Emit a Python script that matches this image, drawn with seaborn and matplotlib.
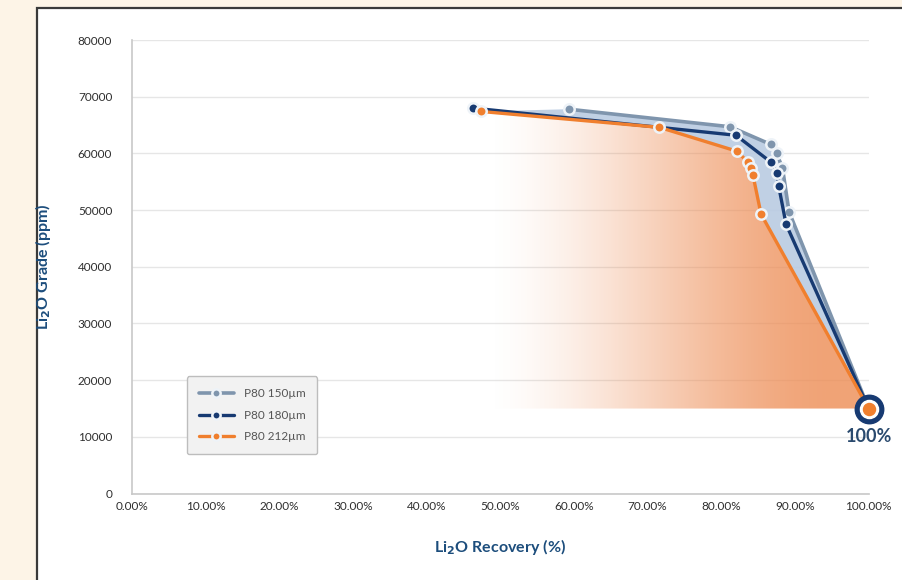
import numpy as np
import pandas as pd
import matplotlib.pyplot as plt
import seaborn as sns
from matplotlib.patches import Rectangle
from matplotlib.ticker import FuncFormatter

# Li2O grade vs recovery for three grind sizes
recovery_150 = [59.3, 81.2, 86.7, 87.5, 88.3, 89.2, 100]
grade_150 = [67800, 64700, 61600, 60000, 57500, 49700, 15000]

recovery_180 = [46.3, 82.0, 86.8, 87.6, 87.8, 88.8, 100]
grade_180 = [68000, 63200, 58400, 56600, 54200, 47500, 15000]

recovery_212 = [47.4, 71.6, 82.1, 83.6, 84.0, 84.3, 85.4, 100]
grade_212 = [67400, 64600, 60400, 58500, 57500, 56200, 49300, 15000]

series_labels = ['P80 150µm', 'P80 180µm', 'P80 212µm']
x_ticks = [0, 10, 20, 30, 40, 50, 60, 70, 80, 90, 100]
y_ticks = [0, 10000, 20000, 30000, 40000, 50000, 60000, 70000, 80000]
end_label = '100%'

grey = '#7f95ad'
navy = '#173a72'
orange = '#f07f2e'
title_blue = '#1c4d7c'

sns.set_style('white')
plt.rcParams['font.family'] = ['Lato', 'DejaVu Sans']

fig = plt.figure(figsize=(9.02, 5.80), dpi=100)
fig.patch.set_facecolor('#fdf4e7')
fig.patches.append(Rectangle((37 / 902, -0.01), 1.0, 1 - 8 / 580 + 0.01,
                             transform=fig.transFigure, facecolor='white',
                             edgecolor='#3a3a3a', linewidth=1.6, zorder=-10))

ax = fig.add_axes([0.146, 0.149, 0.817, 0.782])
ax.set_zorder(2)
ax.set_facecolor('none')

# light blue band between the 150 and 212 curves
band_x = recovery_150 + recovery_212[::-1]
band_y = grade_150 + grade_212[::-1]
ax.fill(band_x, band_y, color='#b9cbe2', alpha=0.9, lw=0, zorder=1)

# orange gradient under the 212 curve
poly = ax.fill_between(recovery_212, grade_212, grade_212[-1], color='none', lw=0, zorder=1)
grad = np.linspace(0, 1, 256)
ramp = np.clip((grad - 0.03) / 0.85, 0, 1)
alpha = (3 * ramp ** 2 - 2 * ramp ** 3) * 0.55 + ramp * 0.25
rgba = np.zeros((1, 256, 4))
rgba[..., 0] = 0.93
rgba[..., 1] = 0.55
rgba[..., 2] = 0.33
rgba[..., 3] = alpha
im = ax.imshow(rgba, extent=[47, 100, 15000, 68000], aspect='auto', origin='lower', zorder=1.5)
im.set_clip_path(poly.get_paths()[0], transform=ax.transData)

for xs, ys, lab, col, lw in [(recovery_150, grade_150, series_labels[0], grey, 2.6),
                             (recovery_180, grade_180, series_labels[1], navy, 2.4),
                             (recovery_212, grade_212, series_labels[2], orange, 2.4)]:
    full = pd.DataFrame({'x': xs, 'y': ys})
    sns.lineplot(data=full, x='x', y='y', sort=False, ax=ax, color=col, lw=lw,
                 zorder=3, label=lab, marker='o', markersize=7.5,
                 markerfacecolor=col, markeredgecolor='#eef3f8', markeredgewidth=1.8)

# end point badge
ax.scatter([100], [15000], s=420, color=navy, zorder=5, clip_on=False)
ax.scatter([100], [15000], s=170, color='white', zorder=6, clip_on=False)
ax.scatter([100], [15000], s=75, color=orange, zorder=7, clip_on=False)
ax.text(100, 15000 - 3500, end_label, ha='center', va='top', fontsize=13,
        fontweight='bold', color='#2a4a6e', zorder=7)

ax.set_xlim(0, 100)
ax.set_ylim(0, 80000)
ax.set_xticks(x_ticks)
ax.set_yticks(y_ticks)
ax.xaxis.set_major_formatter(FuncFormatter(lambda v, p: f'{v:.2f}%'))
ax.tick_params(axis='both', labelsize=8.5, colors='#2e2e2e', length=0)
ax.tick_params(axis='x', pad=5)
ax.tick_params(axis='y', pad=14)
ax.grid(axis='y', color='#e6e6e6', lw=1)
ax.grid(axis='x', visible=False)
for s in ['top', 'right']:
    ax.spines[s].set_visible(False)
for s in ['left', 'bottom']:
    ax.spines[s].set_color('#c8c8c8')
    ax.spines[s].set_linewidth(1.2)

ax.set_xlabel(r'Li$_\mathbf{2}$O Recovery (%)', fontsize=11.5, fontweight='bold',
              color=title_blue, labelpad=18)
ax.set_ylabel(r'Li$_\mathbf{2}$O Grade (ppm)', fontsize=11.5, fontweight='bold',
              color=title_blue, labelpad=18)

leg = ax.legend(loc='lower left', bbox_to_anchor=(0.067, 0.074), fontsize=8.5,
                frameon=True, fancybox=True, borderpad=1.0, labelspacing=0.9,
                handlelength=3.0, facecolor='#f2f2f2', edgecolor='#bdbdbd',
                framealpha=1)
for t in leg.get_texts():
    t.set_color('#555555')
for h in leg.legend_handles:
    h.set_markersize(6)

plt.savefig('out.png', dpi=100, facecolor=fig.get_facecolor())
